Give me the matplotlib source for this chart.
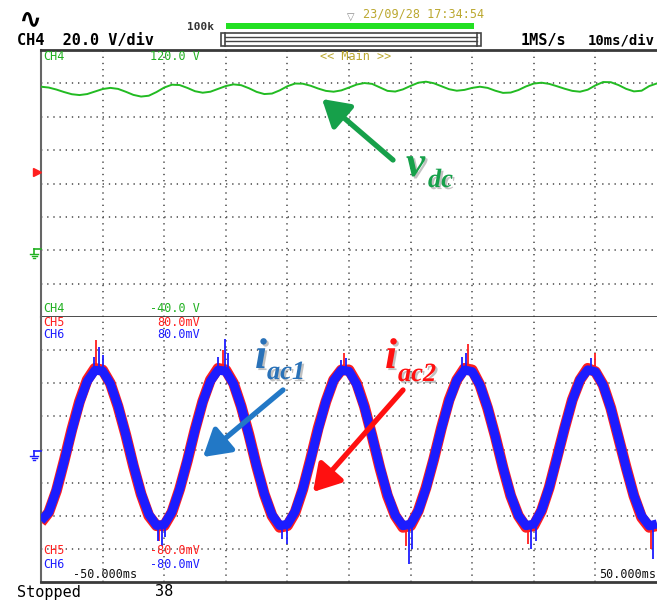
import matplotlib
matplotlib.use('Agg')
import matplotlib.pyplot as plt
import matplotlib.patheffects as pe
from matplotlib.patches import Rectangle, FancyArrowPatch
import numpy as np

# Time base of the capture (ms), 10 ms/div
T_START, T_END = -50.0, 50.0
grid_t = [-40, -30, -20, -10, 0, 10, 20, 30, 40]

# CH4 : dc link voltage (V), one reading every 1.25 ms
vdc = [98.0, 97.5, 96.3, 94.8, 93.5, 93.0, 93.6, 95.1, 96.6, 97.3,
       96.7, 95.0, 93.1, 92.1, 92.6, 94.8, 97.5, 99.2, 99.0, 97.3,
       95.3, 94.4, 95.0, 96.7, 98.4, 99.4, 98.9, 97.1, 94.9, 93.6,
       93.9, 95.8, 98.3, 99.9, 99.8, 98.6, 96.9, 95.5, 95.0, 95.8,
       97.5, 99.3, 100.2, 99.7, 97.6, 95.5, 95.1, 96.4, 98.5, 100.4,
       101.0, 100.1, 98.3, 96.5, 95.6, 96.1, 97.3, 98.0, 97.3, 95.6,
       94.3, 94.5, 96.0, 98.2, 99.9, 100.4, 99.7, 98.3, 96.8, 95.5,
       95.0, 96.2, 98.8, 100.8, 100.7, 99.0, 96.7, 95.2, 95.6, 98.4,
       100.0]
vdc_scale = [120.0, -40.0]          # top / bottom of the CH4 window (V)

# CH5 (i_ac2, red) and CH6 (i_ac1, blue), mV, one reading every 1.25 ms
iac1 = [-43, -38, -24.6, -7.3, 11.3, 28.2, 41.1, 47.8, 47.4, 39.8,
        26.4, 9.1, -9.5, -26.5, -39.2, -45.8, -45.3, -37.7, -24.2, -6.8,
        11.7, 28.6, 41.3, 47.9, 47.3, 39.6, 26.0, 8.6, -9.9, -26.8,
        -39.5, -45.9, -45.2, -37.4, -23.8, -6.4, 12.2, 29.0, 41.6, 47.9,
        47.2, 39.3, 25.6, 8.2, -10.4, -27.2, -39.7, -46.0, -45.1, -37.2,
        -23.5, -5.9, 12.6, 29.3, 41.8, 48.0, 47.0, 39.0, 25.3, 7.8,
        -10.8, -27.5, -39.9, -46.0, -45.0, -36.9, -23.0, -5.5, 13.0, 29.7,
        42.0, 48.1, 46.9, 38.8, 24.9, 7.3, -11.2, -27.8, -40.1, -46.1,
        -44.9]
iac2 = [-44, -38, -25, -7, 12, 29, 42, 49, 48, 40,
        26, 9, -10, -27, -40, -46, -46, -38, -24, -7,
        12, 29, 42, 49, 48, 40, 26, 9, -10, -27,
        -40, -47, -46, -38, -24, -6, 13, 29, 42, 48,
        48, 40, 26, 8, -11, -28, -40, -47, -46, -37,
        -23, -6, 13, 30, 42, 49, 48, 39, 25, 8,
        -11, -28, -40, -47, -46, -37, -23, -5, 13, 30,
        42, 49, 47, 39, 25, 7, -11, -28, -41, -47,
        -46]
iac_scale = [80.0, -80.0]

# switching spikes riding on the currents: time (ms), from, to (mV)
spk1_t = [-40.6, -39.9, -41.4, -30.4, -29.8, -31.0, -20.1, -19.6, -21.2, -10.0, -10.8,
          -0.5, -1.3, 9.7, 10.2, 19.0, 18.3, 29.6, 30.3, 39.3, 49.3]
spk1_a = [45, 44, 44, -44, -44, -44, 45, 45, 44, -44, -43,
          45, 45, -44, -44, 46, 45, -44, -44, 46, -44]
spk1_b = [62, 57, 56, -58, -53, -55, 67, 58, 56, -57, -54,
          55, 54, -69, -60, 58, 56, -60, -55, 55, -66]
spk2_t = [-41.0, -20.5, -0.8, 19.3, 40.0, -30.8, 9.3, 29.0, 49.0]
spk2_a = [46, 46, 46, 47, 46, -44, -44, -44, -44]
spk2_b = [66, 60, 58, 64, 58, -55, -58, -57, -60]

# on-screen labels
header = ["CH4  20.0 V/div", "1MS/s", "10ms/div", "100k", "23/09/28 17:34:54"]
ch4_labels = ["CH4", "120.0 V", "CH4", "-40.0 V"]
ch56_top = ["CH5", "80.0mV", "CH6", "80.0mV"]
ch56_bot = ["CH5", "-80.0mV", "CH6", "-80.0mV"]
time_labels = ["-50.000ms", "50.000ms"]

GREEN = '#20b020'
RED = '#ff1e1e'
BLUE = '#1c1cff'
OLIVE = '#bba830'
MONO = 'DejaVu Sans Mono'

W, H = 657, 601
fig = plt.figure(figsize=(W / 100, H / 100), dpi=100)

def frac_box(x0, y0, x1, y1):
    return [x0 / W, 1 - y1 / H, (x1 - x0) / W, (y1 - y0) / H]

ax_v = fig.add_axes(frac_box(41, 50, 657, 317))
ax_i = fig.add_axes(frac_box(41, 317, 657, 582))

t_v = np.linspace(T_START, T_END, len(vdc))
t_i = np.linspace(T_START, T_END, len(iac1))

for ax, lo, hi in [(ax_v, vdc_scale[1], vdc_scale[0]), (ax_i, iac_scale[1], iac_scale[0])]:
    ax.set_xlim(T_START, T_END)
    ax.set_ylim(lo, hi)
    ax.set_xticks(grid_t)
    ax.set_yticks(np.linspace(lo, hi, 9)[1:-1])
    ax.tick_params(length=0, labelbottom=False, labelleft=False)
    ax.grid(True, color='#555555', linestyle=(0, (0.8, 2.9)), linewidth=1.2)
    ax.spines['right'].set_visible(False)
    ax.spines['left'].set_color('#666666')
    ax.spines['left'].set_linewidth(1.5)
    for s in ['top', 'bottom']:
        ax.spines[s].set_color('#3a3a3a')
        ax.spines[s].set_linewidth(2)
ax_i.spines['top'].set_visible(False)

# dc link voltage
ax_v.plot(t_v, vdc, color='#22bb22', lw=1.4, zorder=3)

# ac currents, CH5 under CH6
ax_i.plot(t_i, iac2, color=RED, lw=7.8, zorder=2, solid_capstyle='butt')
ax_i.vlines(spk2_t, spk2_a, spk2_b, color=RED, lw=1.3, zorder=2)
ax_i.plot(t_i, iac1, color=BLUE, lw=6.5, zorder=3, solid_capstyle='butt')
ax_i.vlines(spk1_t, spk1_a, spk1_b, color=BLUE, lw=1.3, zorder=3)

# overlay in pixel units for the scope furniture and annotations
ov = fig.add_axes([0, 0, 1, 1], zorder=10)
ov.set_xlim(0, W)
ov.set_ylim(H, 0)
ov.axis('off')
ov.patch.set_alpha(0)

ov.text(30, 19, "\u223f", fontsize=20, fontweight='bold', ha='center', va='center', color='black')
ov.text(17, 41, header[0], fontsize=11, fontweight='bold', family=MONO, va='center')
ov.text(521, 41, header[1], fontsize=11, fontweight='bold', family=MONO, va='center')
ov.text(588, 41, header[2], fontsize=10, fontweight='bold', family=MONO, va='center')
ov.text(187, 27, header[3], fontsize=8, fontweight='bold', family=MONO, va='center', color='#333333')
ov.text(363, 14, header[4], fontsize=8.5, family=MONO, va='center', color=OLIVE)
ov.text(351, 17, "\u25bd", fontsize=7, ha='center', va='center', color='#888888')

# record-length bar
ov.add_patch(Rectangle((226, 23), 248, 6, color='#22e022', lw=0))
ov.add_patch(Rectangle((221, 33), 260, 13, fill=False, ec='#444444', lw=1.2))
for yy in (37, 41):
    ov.plot([225, 477], [yy, yy], color='#444444', lw=1.0)
ov.plot([225, 225], [33, 46], color='#444444', lw=1.2)
ov.plot([477, 477], [33, 46], color='#444444', lw=1.2)

# channel scale readouts
ov.text(43, 57, ch4_labels[0], fontsize=8.5, family=MONO, va='center', color=GREEN)
ov.text(200, 57, ch4_labels[1], fontsize=8.5, family=MONO, va='center', ha='right', color=GREEN)
ov.text(320, 57, "<< Main >>", fontsize=8.5, family=MONO, va='center', color=OLIVE)
ov.text(43, 308, ch4_labels[2], fontsize=8.5, family=MONO, va='center', color=GREEN)
ov.text(200, 308, ch4_labels[3], fontsize=8.5, family=MONO, va='center', ha='right', color=GREEN)
ov.text(43, 323, ch56_top[0], fontsize=8.5, family=MONO, va='center', color=RED)
ov.text(200, 323, ch56_top[1], fontsize=8.5, family=MONO, va='center', ha='right', color=RED)
ov.text(43, 335, ch56_top[2], fontsize=8.5, family=MONO, va='center', color=BLUE)
ov.text(200, 335, ch56_top[3], fontsize=8.5, family=MONO, va='center', ha='right', color=BLUE)
ov.text(43, 551, ch56_bot[0], fontsize=8.5, family=MONO, va='center', color=RED)
ov.text(200, 551, ch56_bot[1], fontsize=8.5, family=MONO, va='center', ha='right', color=RED)
ov.text(43, 564, ch56_bot[2], fontsize=8.5, family=MONO, va='center', color=BLUE)
ov.text(200, 564, ch56_bot[3], fontsize=8.5, family=MONO, va='center', ha='right', color=BLUE)
ov.text(73, 575, time_labels[0], fontsize=8.5, family=MONO, va='center', color='#111111')
ov.text(656, 575, time_labels[1], fontsize=8.5, family=MONO, va='center', ha='right', color='#111111')
ov.text(17, 592, "Stopped", fontsize=11, family=MONO, va='center', color='black')
ov.text(155, 592, "38", fontsize=11, family=MONO, va='center', color='black')

# trigger level and ground markers on the left edge
ov.plot([37], [172], marker='>', ms=6, color=RED, clip_on=False)

def ground(x, y, c):
    ov.plot([x, x + 7], [y, y], color=c, lw=1.2)
    ov.plot([x, x], [y, y + 5], color=c, lw=1.2)
    for i, hw in enumerate([4, 2.5, 1]):
        ov.plot([x - hw, x + hw], [y + 5 + 2 * i, y + 5 + 2 * i], color=c, lw=1.0)

ground(34, 249, GREEN)
ground(34, 451, BLUE)

# annotation arrows and symbols
def arrow(x0, y0, x1, y1, c):
    ov.add_patch(FancyArrowPatch((x0, y0), (x1, y1), arrowstyle='-|>,head_length=1.0,head_width=0.6',
                                 mutation_scale=16, color=c, lw=3.8, shrinkA=0, shrinkB=0))

arrow(393, 160, 322, 99, '#16a04a')
arrow(283, 390, 203, 457, '#2278c6')
arrow(403, 390, 313, 492, '#ff1010')

shadow = [pe.withSimplePatchShadow(offset=(1.5, -1.5), shadow_rgbFace='#777777', alpha=0.45)]
sym = dict(family='Liberation Serif', fontweight='bold', style='italic', path_effects=shadow)
ov.text(406, 176, "v", fontsize=31, color='#16a04a', va='baseline', **sym)
ov.text(428, 187, "dc", fontsize=19, color='#16a04a', va='baseline', **sym)
ov.text(255, 368, "i", fontsize=31, color='#2a72b8', va='baseline', **sym)
ov.text(267, 379, "ac1", fontsize=19, color='#2a72b8', va='baseline', **sym)
ov.text(385, 368, "i", fontsize=31, color='#ff1010', va='baseline', **sym)
ov.text(398, 381, "ac2", fontsize=19, color='#ff1010', va='baseline', **sym)

fig.savefig('out.png', dpi=100)
